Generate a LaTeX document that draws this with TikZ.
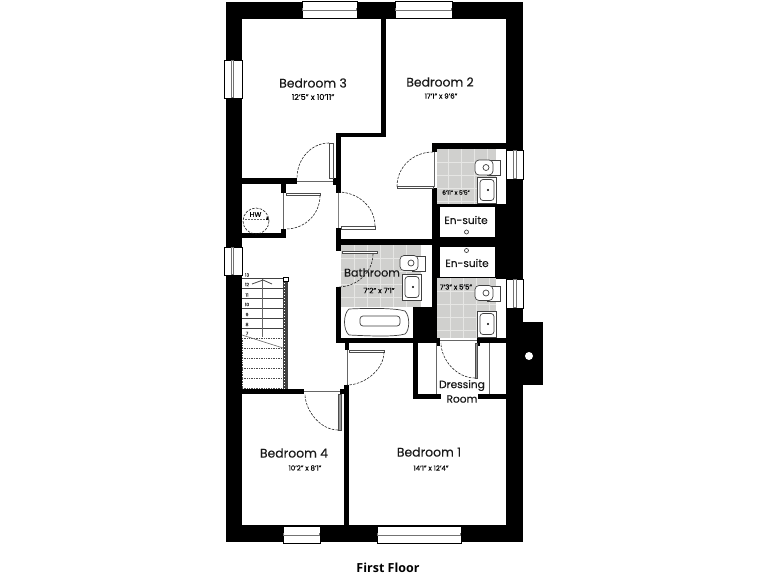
\documentclass[tikz,border=0pt]{standalone}
\usepackage{fontspec}
\setmainfont{Poppins}[FakeBold=0.25]
\newfontfamily\titlefont{Open Sans}
\begin{document}
\begin{tikzpicture}[x=1pt,y=-1pt,
  wall/.style={fill=black,draw=none},
  clear/.style={fill=white,draw=none},
  tile/.style={fill=tilegray,draw=none},
  tileline/.style={draw=tileedge,line width=.6pt},
  thin line/.style={draw=black!60,line width=.6pt},
  swing/.style={draw=black!85,line width=.6pt,dash pattern=on 2.5pt off 1.3pt},
  leaf/.style={fill=white,draw=black!70,line width=.6pt},
  frame/.style={fill=white,draw=black,line width=.6pt},
  fixture/.style={fill=white,draw=black!75,line width=.7pt},
  room/.style={font=\fontsize{12.4}{14}\selectfont,text=black!90,inner sep=0pt},
  smallroom/.style={font=\fontsize{10.6}{12}\selectfont,text=black!90,inner sep=0pt},
  dim/.style={font=\fontsize{7}{8}\selectfont,text=black,inner sep=0pt},
  stepnum/.style={font=\fontsize{4.5}{5}\selectfont,text=black!80,inner sep=0pt},
  tread/.style={draw=black!75,line width=.8pt},
  lowertread/.style={draw=black!70,line width=.9pt,dash pattern=on 1pt off .7pt},
]
\definecolor{tilegray}{HTML}{D0D0CE}
\definecolor{tileedge}{HTML}{E6E6E4}
\useasboundingbox (0,0) rectangle (768,576);
\fill[white] (0,0) rectangle (768,576);
% shell
\path[wall] (226,2) rectangle (523,542);
\path[wall] (523,322) rectangle (543,385);
\path[clear] (242,19) rectangle (506,525);
\path[clear] (529,356) circle (4);
% bedroom partition
\path[wall] (381,19) rectangle (386,137);
\path[wall] (336,133) rectangle (386,137);
\path[wall] (336,133) rectangle (341,193);
\path[wall] (242,178) rectangle (297,184);
\path[wall] (281,184) rectangle (286,193);
\path[wall] (333,178) rectangle (336,185);
\path[wall] (281,229) rectangle (286,238);
\path[wall] (242,233) rectangle (286,238);
\path[wall] (336,228) rectangle (341,251);
% wet-room block
\path[wall] (432,143) rectangle (506,149);
\path[wall] (432,143) rectangle (437,152);
\path[wall] (432,188) rectangle (437,343);
\path[wall] (336,239) rectangle (437,245);
\path[wall] (432,204) rectangle (506,279);
\path[wall] (413,307) rectangle (437,343);
\path[wall] (336,287) rectangle (341,343);
\path[wall] (336,338) rectangle (437,343);
\path[wall] (345,343) rectangle (349,350);
\path[wall] (477,338) rectangle (506,343);
\path[wall] (437,338) rectangle (440,346);
\path[wall] (477,338) rectangle (480,346);
% lower partitions
\path[wall] (344,385) rectangle (349,525);
\path[wall] (242,389) rectangle (304,394);
\path[wall] (340,389) rectangle (349,394);
\path[wall] (413,343) rectangle (418,398);
\path[wall] (413,394) rectangle (441,398.5);
\path[wall] (478,394) rectangle (506,398.5);
% tiles
\path[tile] (437,149) rectangle (496,204);
\foreach \x in {448,461,474,487} \draw[tileline] (\x,149) -- (\x,204);
\foreach \y in {162,175,188,201} \draw[tileline] (437,\y) -- (496,\y);
\path[tile] (437,278) rectangle (496,338);
\foreach \x in {450,463,476,489} \draw[tileline] (\x,278) -- (\x,338);
\foreach \y in {291,304,317,330} \draw[tileline] (437,\y) -- (496,\y);
\path[tile] (341,245) rectangle (421,307);
\foreach \x in {354,367,380,393,406} \draw[tileline] (\x,245) -- (\x,307);
\foreach \y in {258,271,284,297} \draw[tileline] (341,\y) -- (421,\y);
% en-suite panels
\draw[frame] (439,206) rectangle (495,237);
\draw[frame] (439,246) rectangle (495,277);
\draw[fixture] (466.5,232) circle (2);
\draw[fixture] (466.5,250.5) circle (2);
% bath
\path[clear] (341,307) rectangle (413,338);
\draw[fixture] (349,309) .. controls (370,308) and (395,308) .. (405,311) .. controls (410,316) and (410,330) .. (405,334) .. controls (395,337) and (370,336) .. (349,335) .. controls (343,330) and (343,314) .. (349,309) -- cycle;
\draw[fixture,rounded corners=3pt] (360,316) rectangle (400,326);
% fixtures
\foreach \cx/\cy in {409/263,484/167.5,484/293}{
  \draw[fixture,line width=.5pt] (\cx+3,\cy-7) rectangle (\cx+16,\cy+8);
  \draw[fixture,rounded corners=4pt] (\cx-9,\cy-7.5) rectangle (\cx+9,\cy+7.5);
  \draw[fixture] (\cx+2,\cy) circle (3);
}
\foreach \bx/\by in {402/274,477/177,477/311}{
  \draw[fixture,line width=1pt] (\bx,\by) rectangle (\bx+19,\by+26);
  \draw[fixture,rounded corners=3pt] (\bx+3,\by+2.5) rectangle (\bx+17,\by+23.5);
  \fill (\bx+11,\by+13) circle (1.2);
}
% windows
\foreach \wx/\wy/\ww in {302/1/55,395/1/57,283/526/37,377/526/84}{
  \draw[frame] (\wx,\wy) rectangle (\wx+\ww,\wy+17);
  \fill[black!55] (\wx,\wy+6.5) rectangle (\wx+\ww,\wy+9.5);
  \fill[white] (\wx+1,\wy+7.4) rectangle (\wx+\ww-1,\wy+8.6);
}
\foreach \wx/\wy/\wh in {224/60/38,224/247/28}{
  \draw[frame] (\wx,\wy) rectangle (\wx+18,\wy+\wh);
  \fill[black!55] (\wx+6.5,\wy) rectangle (\wx+10,\wy+\wh);
  \fill[white] (\wx+7.5,\wy+1) rectangle (\wx+9,\wy+\wh-1);
}
\foreach \wy/\wh in {150/29,279/29}{
  \draw[frame] (506,\wy) rectangle (523.5,\wy+\wh);
  \fill[black!55] (513,\wy) rectangle (516.5,\wy+\wh);
  \fill[white] (514,\wy+1) rectangle (515.5,\wy+\wh-1);
}
% doors
\draw[thin line] (297,181) -- (333,181);
\draw[leaf] (329,143) rectangle (333,178);
\draw[swing] (329,143) .. controls (311.4,143) and (297,158.7) .. (297,178);
\draw[thin line] (283,193) -- (283,229);
\draw[leaf] (286,193) rectangle (320,195.5);
\draw[swing] (320,195.5) .. controls (320,214) and (305,229) .. (286,229);
\draw[thin line,black!50] (338,193) -- (338,228);
\draw[leaf] (341,226) rectangle (375,229);
\draw[swing] (338,192) .. controls (358,192) and (375,207) .. (375,226);
\draw[leaf] (397,186.5) rectangle (433,188);
\draw[swing] (433,152) .. controls (413,152) and (397,167) .. (397,186.5);
\draw[thin line] (434,152) -- (434,187);
\draw[leaf] (342,251) rectangle (377,253);
\draw[swing] (373,254) .. controls (373,272) and (357,287) .. (338,287);
\draw[thin line] (347,350) -- (347,385);
\draw[leaf] (349,350) rectangle (384,352);
\draw[swing] (384,352) .. controls (384,370) and (364,385) .. (347,385);
\draw[thin line] (304,391) -- (340,391);
\draw[leaf,fill=black!40] (338,394) rectangle (341,430);
\draw[swing] (338,430) .. controls (320,430) and (305,410) .. (305,394);
\draw[leaf,fill=black!40] (475,343) rectangle (477,378);
\draw[swing] (475,378) .. controls (456,378) and (441,359) .. (441,343);
\draw[thin line] (436,343) -- (436,394);
\draw[thin line] (489,343) -- (489,394);
\draw[thin line] (440,340.5) -- (477,340.5);
% stairs
\foreach \y in {278,288,298,308,318,328} \draw[tread] (242,\y) -- (284,\y);
\foreach \y in {338,348,358,368,378,388} \draw[lowertread] (242,\y) -- (284,\y);
\draw[lowertread] (242,338) -- (242,389);
\fill[black!75] (283,278) rectangle (288,389);
\foreach \y in {280,283,...,388} \fill[white] (284,\y) rectangle (285,\y+.8);
\draw[frame] (283,277) rectangle (288,281);
\draw[thin line] (262,279) -- (262,337);
\draw[thin line] (242,335) -- (283,348);
\draw[black!70,line width=.8pt] (252,284) -- (263,280) -- (272,284);
\foreach \lab/\y in {13/275,12/284.5,11/295,10/304.5,9/314.5,8/324.5,7/333.5}
  \node[stepnum] (step\lab) at (247,\y) {\lab};
% labels
\node[room] (bedthree) at (313,83) {Bedroom 3};
\node[dim,font=\fontsize{8}{9}\selectfont] (bedthreedim) at (313,97) {12'5" x 10'11"};
\node[room] (bedtwo) at (440,82) {Bedroom 2};
\node[dim] (bedtwodim) at (441,96) {17'1" x 9'6"};
\node[room] (bedfour) at (294,453) {Bedroom 4};
\node[dim] (bedfourdim) at (305,468) {10'2" x 8'1"};
\node[room] (bedone) at (429,452) {Bedroom 1};
\node[dim] (bedonedim) at (431,468) {14'1" x 12'4"};
\node[room,font=\fontsize{11.2}{13}\selectfont] (bathroom) at (372,272.5) {Bathroom};
\node[dim,font=\fontsize{7.4}{8}\selectfont] (bathdim) at (379,290.5) {7'2" x 7'1"};
\node[smallroom] (ensuiteone) at (466,220) {En-suite};
\node[smallroom] (ensuitetwo) at (467,263) {En-suite};
\node[dim,font=\fontsize{5.8}{7}\selectfont] (ensuiteonedim) at (456,192.5) {6'11" x 5'5"};
\node[dim] (ensuitetwodim) at (456,287) {7'3" x 5'5"};
\node[smallroom] (dressing) at (462,385.5) {Dressing};
\path[clear] (441,392) rectangle (478,406);
\node[smallroom] (dressroom) at (462,399) {Room};
% hot water cylinder
\draw[swing] (256,221) circle (13);
\node[font=\fontsize{7}{8}\selectfont,inner sep=0pt] (hw) at (255.5,214.5) {HW};
\draw[black!60,line width=.6pt,dash pattern=on 2pt off 1pt] (245,219.5) -- (268,219.5);
\fill (269,219.5) -- (267,216) -- (266,220) -- cycle;
% title
\node[font=\titlefont\bfseries\fontsize{12.5}{14}\selectfont,inner sep=0pt] (floortitle) at (388,568) {First Floor};
\end{tikzpicture}
\end{document}
